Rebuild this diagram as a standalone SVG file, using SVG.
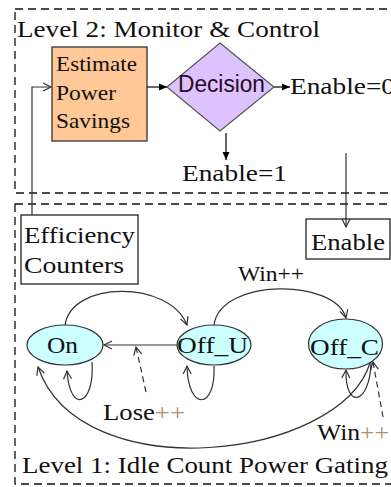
<svg xmlns="http://www.w3.org/2000/svg" width="391" height="487" viewBox="0 0 391 487">
<style>
  .t { font-family: "Liberation Serif", "Times New Roman", serif; fill: #111; }
  .s { font-family: "Liberation Sans", Arial, sans-serif; fill: #2a0a22; }
  .frame { fill: none; stroke: #111; stroke-width: 1.3; stroke-dasharray: 8 5; }
  .c { fill: none; stroke: #333; stroke-width: 1.2; }
  .d { fill: none; stroke: #333; stroke-width: 1.2; stroke-dasharray: 6 4; }
  .st { fill: #ccffff; stroke: #333; stroke-width: 1.2; }
  .lite { fill: #b0906a; }
</style>
<defs>
  <marker id="open" markerUnits="userSpaceOnUse" markerWidth="12" markerHeight="12" refX="9" refY="5" orient="auto">
    <path d="M1,1 L9,5 L1,9" fill="none" stroke="#333" stroke-width="1.2"/>
  </marker>
  <marker id="fill" markerUnits="userSpaceOnUse" markerWidth="10" markerHeight="10" refX="8" refY="4" orient="auto">
    <path d="M0,0.5 L8,4 L0,7.5 z" fill="#000"/>
  </marker>
</defs>
<rect width="391" height="487" fill="#fff"/>
<g id="level2-frame">
  <rect class="frame" x="15" y="9" width="400" height="184"/>
  <text class="t" x="17" y="37" font-size="23" textLength="303" lengthAdjust="spacingAndGlyphs">Level 2: Monitor &amp; Control</text>
</g>
<g id="level1-frame">
  <rect class="frame" x="15" y="204" width="400" height="280"/>
  <text class="t" x="22" y="473" font-size="23" textLength="366" lengthAdjust="spacingAndGlyphs">Level 1: Idle Count Power Gating</text>
</g>
<g id="connectors">
  <path class="c" d="M32 215 L32 87 L51 87" stroke="#444" marker-end="url(#open)"/>
  <path d="M147 87 L167 87" stroke="#000" stroke-width="1.2" marker-end="url(#fill)"/>
  <path d="M274 87 L290 87" stroke="#000" stroke-width="1.2" marker-end="url(#fill)"/>
  <path d="M226 133 L226 160" stroke="#000" stroke-width="1.2" marker-end="url(#fill)"/>
  <path class="c" d="M346 153 L346 227" stroke="#444" marker-end="url(#open)"/>
  <path class="c" d="M65 326 C70 280 170 280 187 325" marker-end="url(#open)"/>
  <path class="c" d="M214 325 C220 278 335 278 346 318" marker-end="url(#open)"/>
  <path class="c" d="M177 345 L104 345" marker-end="url(#open)"/>
  <path class="c" d="M92 362 C95 405 70 415 67 371" marker-end="url(#open)"/>
  <path class="c" d="M214 366 C216 410 188 412 187 366" marker-end="url(#open)"/>
  <path class="c" d="M371 362 C370 405 345 410 346 370" marker-end="url(#open)"/>
  <path class="c" d="M370 363 C340 460 80 490 38 367" marker-end="url(#open)"/>
  <path class="d" d="M146 392 L136 347" marker-end="url(#open)"/>
  <path class="d" d="M383 417 L373 362" marker-end="url(#open)"/>
</g>
<g id="estimate">
  <rect x="52" y="47" width="95" height="94" fill="#ffc896" stroke="#333" stroke-width="1.3"/>
  <text class="t" x="56" y="71" font-size="22" textLength="81" lengthAdjust="spacingAndGlyphs">Estimate</text>
  <text class="t" x="56" y="100" font-size="22" textLength="60" lengthAdjust="spacingAndGlyphs">Power</text>
  <text class="t" x="56" y="128" font-size="22" textLength="74" lengthAdjust="spacingAndGlyphs">Savings</text>
</g>
<g id="decision">
  <polygon points="220,43 274,87 220,131 167,87" fill="#dcc3ff" stroke="#555" stroke-width="1.2"/>
  <text class="s" x="178" y="92" font-size="23" textLength="87" lengthAdjust="spacingAndGlyphs">Decision</text>
</g>
<g id="enable0">
  <text class="t" x="290" y="94" font-size="23" textLength="105" lengthAdjust="spacingAndGlyphs">Enable=0</text>
</g>
<g id="enable1">
  <text class="t" x="182" y="181" font-size="23" textLength="105" lengthAdjust="spacingAndGlyphs">Enable=1</text>
</g>
<g id="efficiency">
  <rect x="21" y="215" width="117" height="69" fill="#fff" stroke="#222" stroke-width="1.3"/>
  <text class="t" x="24" y="243" font-size="24" textLength="111" lengthAdjust="spacingAndGlyphs">Efficiency</text>
  <text class="t" x="24" y="273" font-size="24" textLength="100" lengthAdjust="spacingAndGlyphs">Counters</text>
</g>
<g id="enable">
  <rect x="306" y="219" width="84" height="40" fill="none" stroke="#222" stroke-width="1.3"/>
  <text class="t" x="311" y="250" font-size="23" textLength="74" lengthAdjust="spacingAndGlyphs">Enable</text>
</g>
<g id="on">
  <ellipse class="st" cx="65" cy="345" rx="38" ry="20"/>
  <text class="t" x="47" y="353" font-size="23" textLength="31" lengthAdjust="spacingAndGlyphs">On</text>
</g>
<g id="off_u">
  <ellipse class="st" cx="214" cy="345" rx="37" ry="20"/>
  <text class="t" x="177" y="353" font-size="23" textLength="71" lengthAdjust="spacingAndGlyphs">Off_U</text>
</g>
<g id="off_c">
  <ellipse class="st" cx="345.5" cy="344" rx="37" ry="25"/>
  <text class="t" x="310" y="355" font-size="23" textLength="69" lengthAdjust="spacingAndGlyphs">Off_C</text>
</g>
<g id="labels">
  <text class="t" x="238" y="281" font-size="22" textLength="66" lengthAdjust="spacingAndGlyphs">Win++</text>
  <text class="t" x="103" y="420" font-size="23" textLength="82" lengthAdjust="spacingAndGlyphs">Lose<tspan class="lite">++</tspan></text>
  <text class="t" x="317" y="440" font-size="23" textLength="72" lengthAdjust="spacingAndGlyphs">Win<tspan class="lite">++</tspan></text>
</g>
</svg>
